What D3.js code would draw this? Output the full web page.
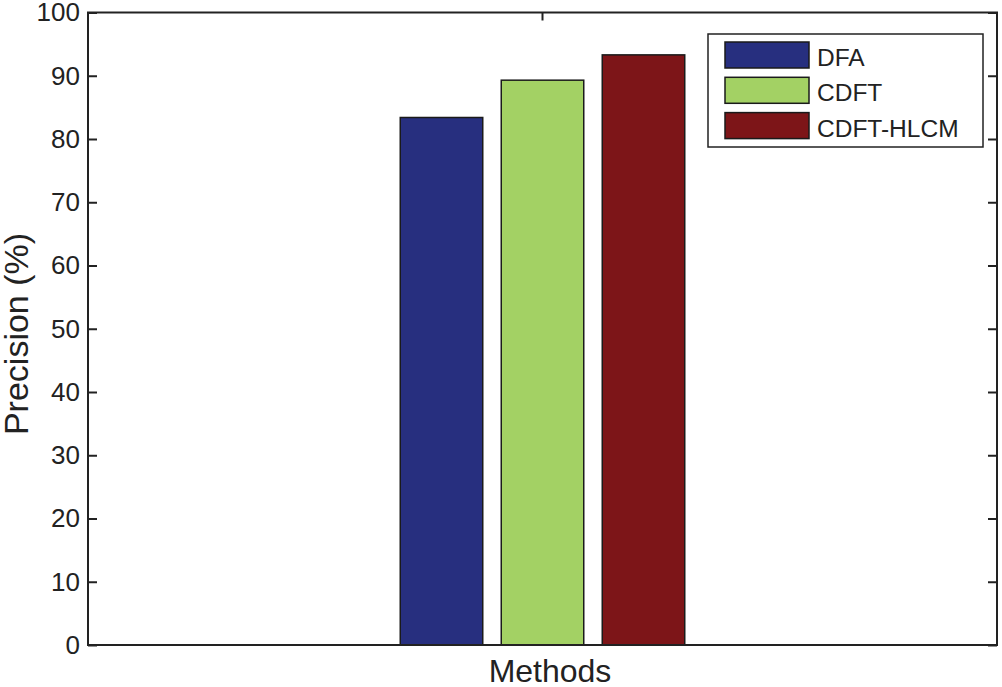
<!DOCTYPE html>
<html>
<head>
<meta charset="utf-8">
<script src="https://cdn.jsdelivr.net/npm/d3@7"></script>
<style>
  body { margin: 0; background: #fff; }
  text { font-family: "Liberation Sans", Arial, sans-serif; fill: #222; }
</style>
</head>
<body>
<div id="chart"></div>
<script>
const methods = ['DFA', 'CDFT', 'CDFT-HLCM'];
const precision = [83.4, 89.3, 93.3];
const colors = ['#272f7f', '#a3d164', '#7d1518'];
const yTicks = [0, 10, 20, 30, 40, 50, 60, 70, 80, 90, 100];

const width = 1002;
const height = 687;
const margin = { top: 12.5, right: 5, bottom: 42, left: 88 };

const svg = d3.select('#chart').append('svg')
  .attr('width', width)
  .attr('height', height);

const x = d3.scaleLinear().domain([0, 1]).range([margin.left, width - margin.right]);
const y = d3.scaleLinear().domain([0, 100]).range([height - margin.bottom, margin.top]);

// bars grouped around the single category at the middle
const barW = 82.5;
const step = 101;
const cx = x(0.5);

svg.append('g')
  .selectAll('rect')
  .data(precision)
  .join('rect')
  .attr('x', (d, i) => cx + (i - 1) * step - barW / 2)
  .attr('y', (d) => y(d))
  .attr('width', barW)
  .attr('height', (d) => y(0) - y(d))
  .attr('fill', (d, i) => colors[i])
  .attr('stroke', '#1a1a1a')
  .attr('stroke-width', 1.5);

// left axis with inward ticks
const yAxis = svg.append('g')
  .attr('transform', `translate(${margin.left},0)`)
  .call(d3.axisLeft(y).tickValues(yTicks).tickSize(-9).tickPadding(8));
yAxis.select('.domain').remove();
yAxis.selectAll('line').attr('stroke', '#222').attr('stroke-width', 2);
yAxis.selectAll('text').attr('font-size', 26).attr('font-family', '"Liberation Sans", Arial, sans-serif').attr('fill', '#222');

// right mirror ticks
const yRight = svg.append('g')
  .attr('transform', `translate(${width - margin.right},0)`)
  .call(d3.axisRight(y).tickValues(yTicks).tickSize(-9).tickFormat(''));
yRight.select('.domain').remove();
yRight.selectAll('line').attr('stroke', '#222').attr('stroke-width', 2);

// top tick at the category
svg.append('line')
  .attr('x1', cx).attr('x2', cx)
  .attr('y1', y(100)).attr('y2', y(100) + 8)
  .attr('stroke', '#222').attr('stroke-width', 2);

// frame
svg.append('rect')
  .attr('x', margin.left)
  .attr('y', margin.top)
  .attr('width', width - margin.left - margin.right)
  .attr('height', y(0) - margin.top)
  .attr('fill', 'none')
  .attr('stroke', '#222')
  .attr('stroke-width', 2);

// axis titles
svg.append('text')
  .attr('x', 550)
  .attr('y', 682)
  .attr('text-anchor', 'middle')
  .attr('font-size', 32)
  .text('Methods');

svg.append('text')
  .attr('transform', `translate(28,334) rotate(-90)`)
  .attr('text-anchor', 'middle')
  .attr('font-size', 34)
  .text('Precision (%)');

// legend
const legend = svg.append('g').attr('transform', 'translate(708,34)');
legend.append('rect')
  .attr('width', 275)
  .attr('height', 113)
  .attr('fill', '#fff')
  .attr('stroke', '#222')
  .attr('stroke-width', 1.5);

const items = legend.selectAll('g.item')
  .data(methods)
  .join('g')
  .attr('class', 'item')
  .attr('transform', (d, i) => `translate(17,${8 + i * 35.3})`);

items.append('rect')
  .attr('width', 84)
  .attr('height', 26)
  .attr('fill', (d, i) => colors[i])
  .attr('stroke', '#1a1a1a')
  .attr('stroke-width', 1.5);

items.append('text')
  .attr('x', 92)
  .attr('y', 24)
  .attr('font-size', 24.5)
  .text((d) => d);
</script>
</body>
</html>
